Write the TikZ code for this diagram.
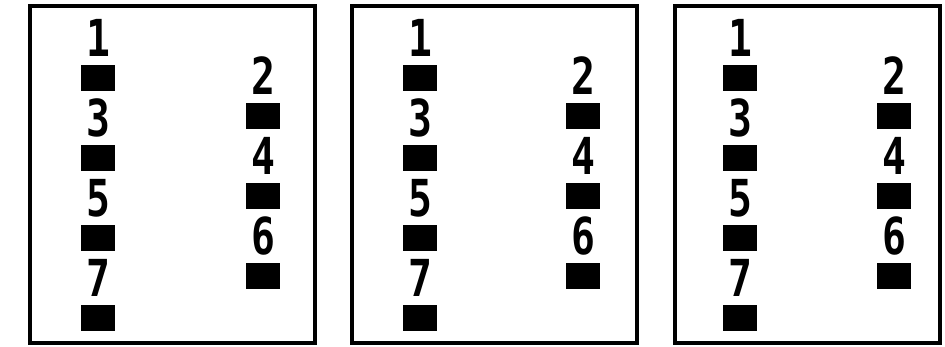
\documentclass[tikz,border=0pt]{standalone}
\usepackage{fontspec}
\newfontfamily\pixfont{DejaVu Sans Mono}[FakeStretch=0.78]
\tikzset{
  frame/.style={line width=2pt},
  lab/.style={inner sep=0pt,font=\pixfont\bfseries\fontsize{29}{29}\selectfont},
  blk/.style={fill=black,inner sep=0pt,minimum width=0.68cm,minimum height=0.52cm}
}
\begin{document}
\begin{tikzpicture}[x=0.02cm,y=-0.02cm]
\useasboundingbox (0,0) rectangle (945,347);
\foreach \p/\fl/\fr/\lx/\rx in {a/30/315/98/263, b/352/637/420/583, c/675/940/740/894} {
  \draw[frame] (\fl,6) rectangle (\fr,343);
  \foreach \i/\k in {1/0,3/1,5/2,7/3} {
    \node[lab] (\p n\i) at (\lx,38+80*\k) {\i};
    \node[blk] (\p s\i) at (\lx,78+80*\k) {};
  }
  \foreach \i/\k in {2/0,4/1,6/2} {
    \node[lab] (\p n\i) at (\rx,76+80*\k) {\i};
    \node[blk] (\p s\i) at (\rx,116+80*\k) {};
  }
}
\end{tikzpicture}
\end{document}
